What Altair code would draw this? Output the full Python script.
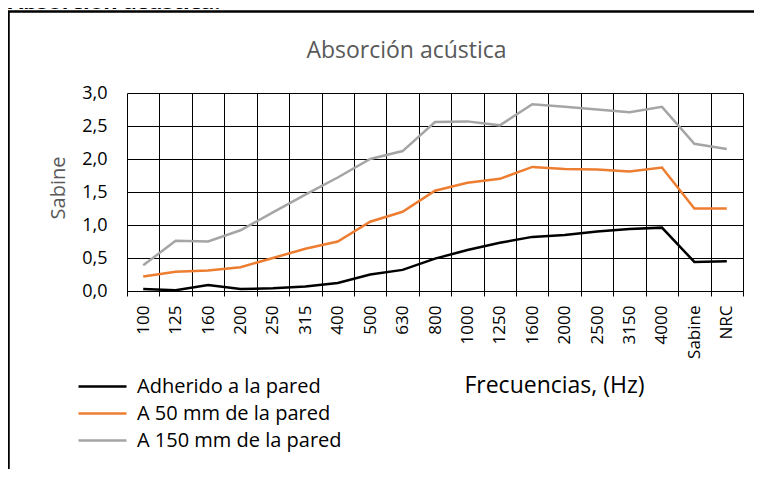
import altair as alt
import pandas as pd

categories = ["100", "125", "160", "200", "250", "315", "400", "500", "630", "800",
              "1000", "1250", "1600", "2000", "2500", "3150", "4000", "Sabine", "NRC"]
adherido = [0.03, 0.01, 0.09, 0.03, 0.04, 0.07, 0.12, 0.25, 0.32, 0.49,
            0.62, 0.73, 0.82, 0.85, 0.90, 0.94, 0.96, 0.44, 0.45]
a50 = [0.22, 0.29, 0.31, 0.36, 0.50, 0.64, 0.75, 1.05, 1.20, 1.52,
       1.64, 1.70, 1.88, 1.85, 1.84, 1.81, 1.87, 1.25, 1.25]
a150 = [0.39, 0.76, 0.75, 0.92, 1.19, 1.46, 1.72, 2.00, 2.12, 2.56,
        2.57, 2.51, 2.83, 2.79, 2.75, 2.71, 2.79, 2.23, 2.15]
series_names = ["Adherido a la pared", "A 50 mm de la pared", "A 150 mm de la pared"]
series_colors = ["#000000", "#ED7D31", "#A5A5A5"]
y_ticks = [0, 0.5, 1.0, 1.5, 2.0, 2.5, 3.0]
chart_title = "Absorción acústica"
header_text = "Absorción acústica:"

rows = []
for name, vals in zip(series_names, [adherido, a50, a150]):
    for c, v in zip(categories, vals):
        rows.append({"Frecuencia": c, "Serie": name, "Valor": v})
df = pd.DataFrame(rows)
one = pd.DataFrame({"k": [0]})

FONT = "Open Sans"

frame = alt.Chart(one).mark_rect(
    fillOpacity=0, stroke="black", strokeWidth=2.5
).encode(
    x=alt.value(-118.5), x2=alt.value(700),
    y=alt.value(-81.5), y2=alt.value(500)
)

header = alt.Chart(one).mark_text(
    text=header_text, align="left", baseline="alphabetic",
    font=FONT, fontSize=22, fontWeight="bold", color="black"
).encode(x=alt.value(-119), y=alt.value(-84))

title = alt.Chart(one).mark_text(
    text=chart_title, align="center", baseline="alphabetic",
    font=FONT, fontSize=23, fontWeight="normal", color="#595959"
).encode(x=alt.value(279.5), y=alt.value(-35))

lines = alt.Chart(df).mark_line(strokeWidth=2.5).encode(
    x=alt.X(
        "Frecuencia:N", sort=categories, bandPosition=0.5,
        scale=alt.Scale(type="band", paddingInner=0, paddingOuter=0),
        axis=alt.Axis(
            title="Frecuencias, (Hz)", titleFont=FONT, titleFontSize=23,
            titleFontWeight="normal", titleColor="black",
            titleX=427, titleY=101, titleAlign="center", titleBaseline="alphabetic",
            labelAngle=270, labelFont=FONT, labelFontSize=17, labelColor="black",
            labelPadding=9, tickBand="extent", ticks=True, tickSize=5,
            tickColor="black", tickWidth=1, grid=True, gridColor="black",
            gridWidth=1, gridOpacity=1, domainColor="black", domainWidth=1,
        ),
    ),
    y=alt.Y(
        "Valor:Q", scale=alt.Scale(domain=[0, 3], nice=False),
        axis=alt.Axis(
            title="Sabine", titleFont=FONT, titleFontSize=20, titleFontWeight="normal",
            titleColor="#595959", titleX=-63, titleY=94.5, titleAngle=270,
            titleAlign="center", titleBaseline="alphabetic",
            values=y_ticks, labelExpr="replace(format(datum.value, '.1f'), '.', ',')",
            labelFont=FONT, labelFontSize=18, labelColor="black", labelPadding=20,
            ticks=False, tickSize=0, domain=False, grid=True, gridColor="black",
            gridWidth=1, gridOpacity=1,
        ),
    ),
    color=alt.Color(
        "Serie:N", sort=series_names,
        scale=alt.Scale(domain=series_names, range=series_colors),
        legend=alt.Legend(
            title=None, orient="none", legendX=-36, legendY=282, padding=0,
            symbolType="M-2.4,0H2.4", symbolSize=400, symbolStrokeWidth=2.5,
            labelFont=FONT, labelFontSize=20, labelColor="black", labelOffset=23,
            rowPadding=5, labelLimit=400,
        ),
    ),
)

chart = alt.layer(frame, header, title, lines).properties(
    width=616, height=198,
    autosize=alt.AutoSizeParams(type="none"),
    padding={"left": 119, "top": 85, "right": 11, "bottom": 178},
).configure_view(stroke="transparent")

chart.save("out.html", embed_options={"renderer": "svg", "actions": False})
